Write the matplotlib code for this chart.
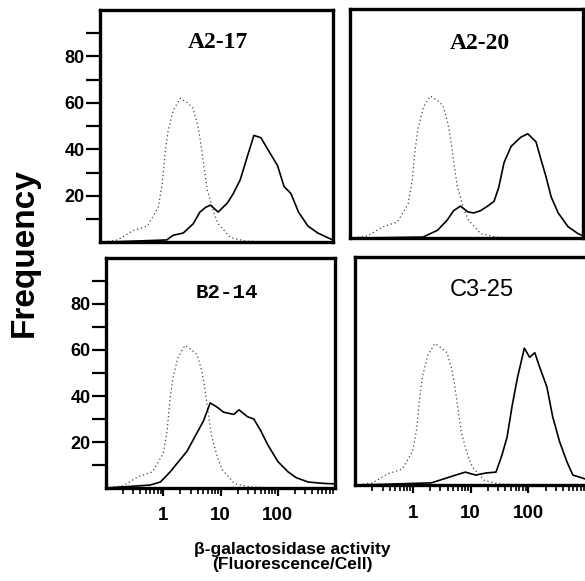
import matplotlib
matplotlib.use("Agg")
import matplotlib.pyplot as plt
from matplotlib.ticker import FixedLocator, NullFormatter

# control (dotted) histogram, same in every panel
ctrl_x = [0.1, 0.2, 0.37, 0.65, 1.0, 1.17, 1.32, 1.48, 1.82, 2.4, 3.16, 3.9,
          4.7, 5.2, 6.9, 8.9, 10.7, 17.4, 32, 100, 1000]
ctrl_y = [0, 1, 5, 7, 15, 25, 39, 48, 57, 62, 60, 58,
          51, 45, 23, 13, 8, 2, 0.5, 0, 0]

a217_x = [0.1, 1.4, 1.8, 2.7, 4.0, 5.2, 6.5, 7.9, 10.7, 15.5, 19.5, 25.7,
          34, 44, 58, 76, 112, 145, 190, 257, 372, 550, 813, 1000]
a217_y = [0, 1, 3, 4, 8, 13, 15, 16, 13, 17, 21, 27,
          37, 46, 45, 40, 33, 24, 21, 13, 7, 4, 2, 1]

a220_x = [0.1, 1.8, 3.2, 4.7, 6.0, 7.9, 10.5, 13.2, 17.4, 23, 29.5, 35.5,
          44, 58, 85, 112, 155, 190, 229, 282, 372, 550, 813, 1000]
a220_y = [0, 0.5, 3.5, 8, 12, 14, 11.5, 11, 12, 14, 16, 22,
          33, 40, 44, 45.5, 42, 34, 27, 18, 11, 5, 2, 1]

b214_x = [0.1, 0.59, 0.89, 1.32, 1.78, 2.6, 3.6, 5.0, 6.6, 8.9, 11.2, 17,
          21, 29.5, 38, 50, 66, 100, 151, 209, 339, 646, 1000]
b214_y = [0, 1.3, 2.6, 7, 11, 16, 22.5, 29, 37, 35, 33, 32,
          34, 31, 30, 25, 19, 11.5, 7, 4.5, 2.6, 2, 1.8]

c325_x = [0.1, 2.1, 5.5, 8.1, 12.3, 18.2, 27.5, 34.7, 42.7, 52.5, 64.6, 85,
          105, 129, 155, 209, 263, 347, 468, 589, 891, 1000]
c325_y = [0, 1, 4.4, 5.7, 4.4, 5.3, 5.7, 13, 21, 35, 47, 60,
          56, 58, 52, 43, 30, 19, 10, 4.4, 3, 2.5]

y_major = [20, 40, 60, 80]
y_minor = [10, 30, 50, 70, 90]
x_major = [1, 10, 100]
x_minor = [m * d for d in (0.1, 1, 10, 100) for m in range(2, 10)]

fig = plt.figure(figsize=(5.85, 5.81), dpi=100)

panels = [
    # rect, title, title font, title pos, sample x, sample y, left?, bottom?
    ([0.171, 0.583, 0.398, 0.400], "A2-17",
     dict(family="Liberation Serif", weight="bold", size=17), (0.506, 0.858),
     a217_x, a217_y, True, False),
    ([0.598, 0.590, 0.399, 0.395], "A2-20",
     dict(family="Liberation Serif", weight="bold", size=17), (0.558, 0.85),
     a220_x, a220_y, False, False),
    ([0.181, 0.160, 0.392, 0.396], "B2-14",
     dict(family="Liberation Mono", weight="bold", size=15), (0.528, 0.848),
     b214_x, b214_y, True, True),
    ([0.607, 0.165, 0.395, 0.393], "C3-25",
     dict(family="Liberation Sans", weight="normal", size=17), (0.55, 0.855),
     c325_x, c325_y, False, True),
]

for rect, title, tfont, tpos, sx, sy, left, bottom in panels:
    ax = fig.add_axes(rect)
    ax.set_xscale("log")
    ax.plot(ctrl_x, ctrl_y, color="#444444", lw=0.9, linestyle=(0, (1, 2.2)))
    ax.plot(sx, sy, color="black", lw=1.2)
    ax.set_xlim(0.1, 1000)
    ax.set_ylim(0, 100)
    for s in ax.spines.values():
        s.set_linewidth(2.4)
    ax.text(tpos[0], tpos[1], title, transform=ax.transAxes,
            ha="center", va="center", **tfont)

    if left:
        ax.yaxis.set_major_locator(FixedLocator(y_major))
        ax.yaxis.set_minor_locator(FixedLocator(y_minor))
        ax.tick_params(axis="y", which="both", direction="out", length=10,
                       width=1.6, pad=1)
        for lab in ax.get_yticklabels():
            lab.set_fontfamily("Liberation Sans")
            lab.set_fontweight("bold")
            lab.set_fontsize(13)
    else:
        ax.set_yticks([])
        ax.yaxis.set_minor_locator(FixedLocator([]))

    if bottom:
        ax.xaxis.set_major_locator(FixedLocator(x_major))
        ax.xaxis.set_minor_locator(FixedLocator(x_minor))
        ax.xaxis.set_minor_formatter(NullFormatter())
        ax.set_xticklabels(["1", "10", "100"])
        ax.tick_params(axis="x", which="major", direction="out", length=6,
                       width=1.6, pad=8)
        ax.tick_params(axis="x", which="minor", direction="out", length=4,
                       width=1.2)
        for lab in ax.get_xticklabels():
            lab.set_fontfamily("Liberation Sans")
            lab.set_fontweight("bold")
            lab.set_fontsize(13.5)
    else:
        ax.xaxis.set_major_locator(FixedLocator([]))
        ax.xaxis.set_minor_locator(FixedLocator([]))

fig.text(0.042, 0.565, "Frequency", rotation=90, ha="center", va="center",
         family="Liberation Sans", weight="bold", size=24)
fig.text(0.5, 0.041, "\u03b2-galactosidase activity\n(Fluorescence/Cell)",
         ha="center", va="center", family="Liberation Sans", weight="bold",
         size=12.5, linespacing=0.95)

fig.savefig("out.png", dpi=100)
